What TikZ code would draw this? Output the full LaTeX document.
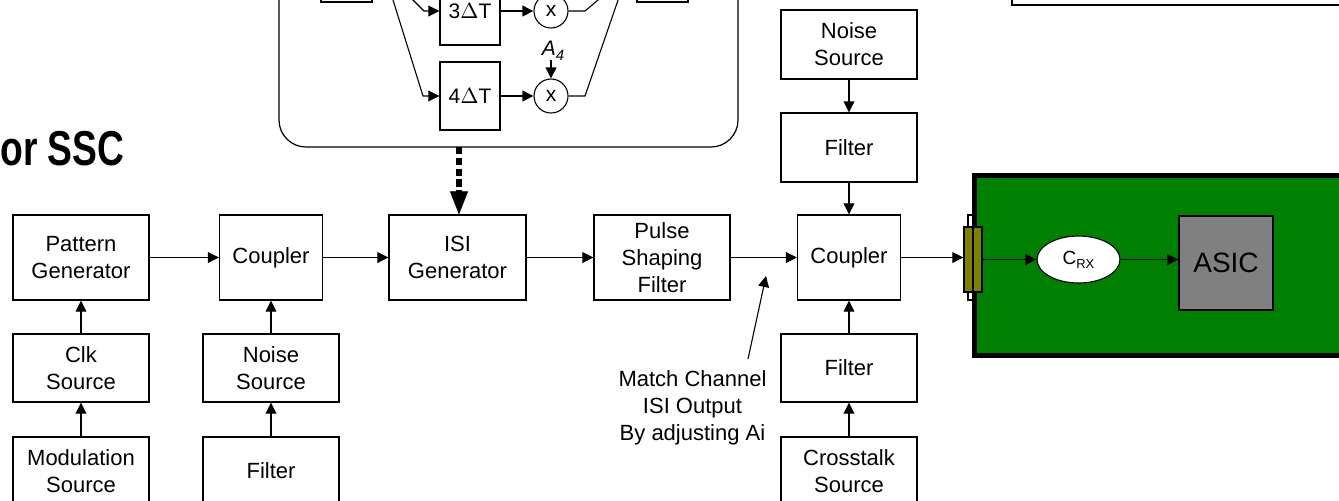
\documentclass[tikz,border=0pt]{standalone}
\usepackage{fontspec}
\setmainfont{Liberation Sans}
\usetikzlibrary{arrows.meta,shapes.geometric}
\definecolor{pcbgreen}{HTML}{008000}
\definecolor{olivec}{HTML}{808000}
\definecolor{asicgray}{HTML}{808080}
\begin{document}
\begin{tikzpicture}[x=0.5pt,y=-0.5pt,
  box/.style={draw, line width=0.6pt, inner sep=0pt, align=center, font=\fontsize{11}{13.5}\selectfont},
  bigbox/.style={box, minimum width=68pt, minimum height=42.5pt},
  smallbox/.style={box, minimum width=51.5pt, minimum height=42.5pt},
  lowbox/.style={box, minimum width=68pt, minimum height=34pt},
  dlybox/.style={box, minimum width=30pt, minimum height=34pt, font=\fontsize{10.5}{12}\selectfont},
  mult/.style={draw, circle, line width=0.55pt, inner sep=0pt, minimum size=17pt, font=\fontsize{10.5}{12}\selectfont},
  arr/.style={line width=0.55pt, -{Triangle[length=5.5pt,width=5.4pt]}},
  thin/.style={line width=0.55pt},
  dotarr/.style={line width=2.8pt, dash pattern=on 3.6pt off 1.8pt, -{Triangle[length=11.5pt,width=9pt,line width=0.3pt]}}
]
\useasboundingbox (0,0) rectangle (1339,500);
\clip (0,0) rectangle (1339,500);

% title
\node[anchor=base east, inner sep=0pt] (title) at (125,165)
  {\scalebox{0.76}[1]{\fontsize{24.5}{24.5}\selectfont\bfseries or SSC}};

% top-right box (cut)
\draw[line width=0.6pt] (1012,-60) rectangle (1360,5);

% ISI generator detail box (cut)
\node[draw, line width=0.6pt, rounded corners=13.5pt, minimum width=229.5pt, minimum height=103.5pt, inner sep=0pt] (isibox) at (508.5,43.5) {};
\draw[line width=0.6pt] (321,-60) rectangle (372,2);
\draw[line width=0.6pt] (637,-60) rectangle (688,2);
\node[dlybox] (d3) at (470,11) {3$\Delta$T};
\node[dlybox] (d4) at (470,96) {4$\Delta$T};
\node[mult] (m3) at (551,11) {x};
\node[mult] (m4) at (551,96) {x};
\node[inner sep=0pt, font=\fontsize{10.5}{11}\selectfont] (a4) at (553,51)
  {\textit{A}\raisebox{-2.5pt}{\fontsize{7.5}{8}\selectfont\textit{4}}};
\coordinate (a4foot) at (551,60);
\draw[arr] (a4foot) -- (m4.north);
\coordinate (s3) at (380,-33);
\coordinate (k3) at (424,11);
\coordinate (s4) at (380.5,-40);
\coordinate (k4) at (423,96);
\draw[arr] (s3) -- (k3) -- (d3.west);
\draw[arr] (s4) -- (k4) -- (d4.west);
\draw[arr] (d3) -- (m3);
\draw[arr] (d4) -- (m4);
\coordinate (e3) at (585,11);
\coordinate (t3) at (637,-33);
\coordinate (e4) at (585,96);
\coordinate (t4) at (637,-55);
\draw[thin] (m3.east) -- (e3) -- (t3);
\draw[thin] (m4.east) -- (e4) -- (t4);

% main chain
\node[bigbox] (pg) at (81,257.5) {Pattern\\Generator};
\node[smallbox] (cp1) at (271,257.5) {Coupler};
\node[bigbox, minimum width=68.5pt] (isi) at (457.5,257.5) {ISI\\Generator};
\node[bigbox] (psf) at (662,257.5) {Pulse\\Shaping\\Filter};
\node[smallbox] (cp2) at (849,257.5) {Coupler};
\node[lowbox] (clk) at (81,368) {Clk\\Source};
\node[lowbox] (mod) at (81,471) {Modulation\\Source};
\node[lowbox] (ns1) at (271,368) {Noise\\Source};
\node[lowbox] (flt1) at (271,471) {Filter};
\node[lowbox, minimum height=34.5pt] (nsR) at (849,44.5) {Noise\\Source};
\node[lowbox, minimum height=34.5pt] (fltR1) at (849,147.5) {Filter};
\node[lowbox] (fltR2) at (849,368) {Filter};
\node[lowbox] (xt) at (849,471) {Crosstalk\\Source};

\draw[arr] (pg) -- (cp1);
\draw[arr] (cp1) -- (isi);
\draw[arr] (isi) -- (psf);
\draw[arr] (psf) -- (cp2);
\draw[arr] (clk) -- (pg);
\draw[arr] (mod) -- (clk);
\draw[arr] (ns1) -- (cp1);
\draw[arr] (flt1) -- (ns1);
\draw[arr] (nsR) -- (fltR1);
\draw[arr] (fltR1) -- (cp2);
\draw[arr] (fltR2) -- (cp2);
\draw[arr] (xt) -- (fltR2);

% dotted link
\coordinate (isiout) at (459,147);
\draw[dotarr] (isiout) -- (isiout |- isi.north);

% annotation
\node[align=center, inner sep=0pt, font=\fontsize{11}{13.5}\selectfont] (note) at (692.5,408) {Match Channel\\ISI Output\\By adjusting Ai};
\coordinate (notetail) at (748,359);
\coordinate (notetip) at (766,276);
\draw[arr] (notetail) -- (notetip);

% receiver board
\draw[line width=0.6pt, fill=white] (968,215) rectangle (978,300);
\draw[line width=2.3pt, fill=pcbgreen] (974.3,175.3) rectangle (1370,355.7);
\node[draw, line width=0.6pt, fill=olivec, minimum width=9pt, minimum height=32.5pt, inner sep=0pt] (conn) at (973,259.5) {};
\draw[line width=0.6pt] (conn.north) -- (conn.south);
\node[draw, ellipse, line width=0.55pt, fill=white, minimum width=41.5pt, minimum height=23.5pt, inner sep=0pt] (crx) at (1078.5,259.5)
  {\fontsize{9.5}{9.5}\selectfont C\raisebox{-2pt}{\fontsize{6.5}{6.5}\selectfont RX}};
\node[draw, line width=0.6pt, fill=asicgray, minimum width=47pt, minimum height=47pt, inner sep=0pt, font=\fontsize{14}{15}\selectfont] (asic) at (1226,263) {ASIC};
\draw[arr] (cp2.east) -- (cp2.east -| conn.west);
\draw[arr] (conn.east |- crx.west) -- (crx.west);
\draw[arr] (crx.east) -- (crx.east -| asic.west);
\end{tikzpicture}
\end{document}
